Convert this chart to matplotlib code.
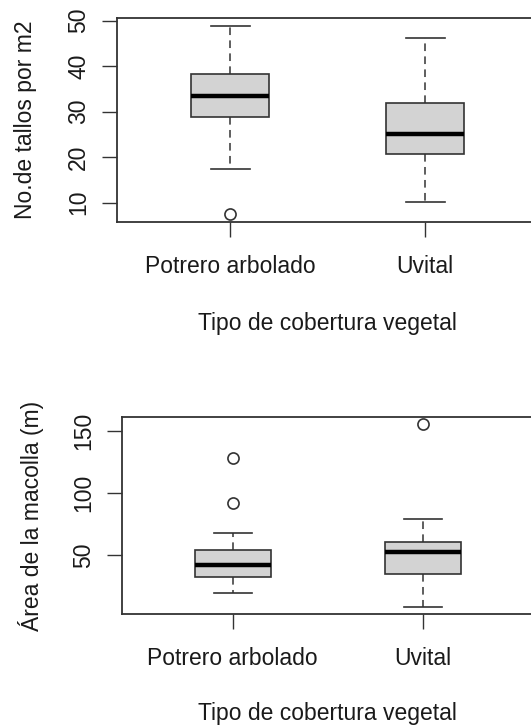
import matplotlib
matplotlib.use("Agg")
import matplotlib.pyplot as plt
import numpy as np

plt.rcParams["font.family"] = ["Liberation Sans", "DejaVu Sans"]

groups = ["Potrero arbolado", "Uvital"]
xlabel = "Tipo de cobertura vegetal"

# tallos por m2: whisker low, Q1, median, Q3, whisker high, outliers
tallos_lo = [17.3, 10.1]
tallos_q1 = [28.9, 20.6]
tallos_med = [33.4, 25.1]
tallos_q3 = [38.2, 31.8]
tallos_hi = [48.9, 46.2]
tallos_out = [[7.4], []]
tallos_ticks = [10, 20, 30, 40, 50]

# area de la macolla
area_lo = [19.7, 8.2]
area_q1 = [32.5, 34.5]
area_med = [42.0, 52.4]
area_q3 = [54.0, 60.7]
area_hi = [67.5, 79.0]
area_out = [[92.1, 127.8], [155.6]]
area_ticks = [50, 100, 150]

EDGE = "#333333"
TXT = "#1a1a1a"
FS = 16.5


def rbox(ax, lo, q1, med, q3, hi, out, ticks, ylab, ylabpad, xlabpad):
    stats = []
    for i in range(len(groups)):
        stats.append(dict(whislo=lo[i], q1=q1[i], med=med[i], q3=q3[i],
                          whishi=hi[i], fliers=out[i]))
    ax.bxp(stats, positions=[1, 2], widths=0.4, capwidths=0.2,
           patch_artist=True,
           boxprops=dict(facecolor="#d3d3d3", edgecolor=EDGE, linewidth=1.2),
           medianprops=dict(color="black", linewidth=3.2, solid_capstyle="butt"),
           whiskerprops=dict(color=EDGE, linewidth=1.1, linestyle=(0, (5, 3.5))),
           capprops=dict(color=EDGE, linewidth=1.2),
           flierprops=dict(marker="o", markersize=8, markerfacecolor="none",
                           markeredgecolor=EDGE, markeredgewidth=1.2))

    # R style 4% padding on both axes
    vals = lo + hi + [v for o in out for v in o]
    lo_v, hi_v = min(vals), max(vals)
    pad = 0.04 * (hi_v - lo_v)
    ax.set_ylim(lo_v - pad, hi_v + pad)
    ax.set_xlim(0.42, 2.58)

    ax.set_yticks(ticks)
    ax.set_yticklabels([str(t) for t in ticks], rotation=90, va="center",
                       fontsize=FS, color=TXT)
    ax.set_xticks([1, 2])
    ax.set_xticklabels(groups, fontsize=FS, color=TXT)
    ax.tick_params(axis="both", direction="out", length=10.5, width=1.0,
                   color=EDGE)
    ax.tick_params(axis="y", pad=9)
    ax.tick_params(axis="x", pad=13)
    for s in ax.spines.values():
        s.set_color(EDGE)
        s.set_linewidth(1.3)
    ax.set_ylabel(ylab, fontsize=FS, color=TXT, labelpad=ylabpad)
    ax.set_xlabel(xlabel, fontsize=FS, color=TXT, labelpad=xlabpad)


fig = plt.figure(figsize=(5.31, 7.25), dpi=100)
ax1 = fig.add_axes([0.2209, 0.6938, 0.793, 0.2814])
ax2 = fig.add_axes([0.2303, 0.1527, 0.773, 0.2726])

rbox(ax1, tallos_lo, tallos_q1, tallos_med, tallos_q3, tallos_hi,
     tallos_out, tallos_ticks, "No.de tallos por m2", 22, 25)
rbox(ax2, area_lo, area_q1, area_med, area_q3, area_hi,
     area_out, area_ticks, "Área de la macolla (m)", 20, 23)

fig.savefig("out.png", dpi=100)
